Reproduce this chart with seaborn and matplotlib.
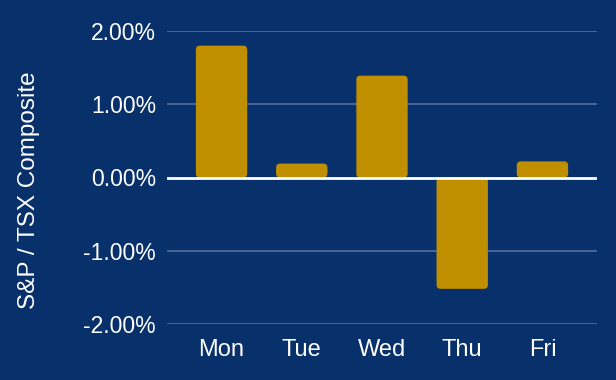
import matplotlib
matplotlib.use("Agg")
import matplotlib.pyplot as plt
import seaborn as sns
import pandas as pd
from matplotlib.patches import FancyBboxPatch
from matplotlib.ticker import FuncFormatter

# valores
dias = ["Mon", "Tue", "Wed", "Thu", "Fri"]
retornos = [1.80, 0.19, 1.39, -1.52, 0.22]
ticks_y = [-2, -1, 0, 1, 2]

fundo = "#08306a"
dourado = "#c08f00"
grade = "#4e6a9a"

sns.set_theme(style="dark")
plt.rcParams["font.family"] = ["Liberation Sans", "DejaVu Sans"]

df = pd.DataFrame({"dia": dias, "retorno": retornos})

fig = plt.figure(figsize=(6.16, 3.8), dpi=100, facecolor=fundo)
ax = fig.add_axes([167 / 616, 1 - 324 / 380, 430 / 616, 293 / 380])
ax.set_facecolor(fundo)

sns.barplot(data=df, x="dia", y="retorno", color=dourado, width=0.64,
            saturation=1, ax=ax, zorder=2)

# cantos arredondados
for p in list(ax.patches):
    x, y = p.get_x(), p.get_y()
    w, h = p.get_width(), p.get_height()
    if h < 0:
        y, h = y + h, -h
    p.remove()
    caixa = FancyBboxPatch((x, y), w, h,
                           boxstyle="round,pad=0,rounding_size=0.05",
                           mutation_aspect=4.0 / 5.36 * 430 / 293,
                           facecolor=dourado, edgecolor="none", zorder=2)
    ax.add_patch(caixa)

ax.set_xlim(-0.68, 4.68)
ax.set_ylim(-2, 2)
ax.set_yticks(ticks_y)
ax.yaxis.set_major_formatter(FuncFormatter(lambda v, _: f"{v:.2f}%"))
for t in ticks_y:
    if t != 0:
        ax.axhline(t, color=grade, lw=1.3, zorder=1)
ax.axhline(0, color="white", lw=2, zorder=3)

for s in ax.spines.values():
    s.set_visible(False)
ax.tick_params(axis="both", length=0, colors="white", labelsize=17)
ax.tick_params(axis="y", labelsize=16.5, pad=8)
ax.tick_params(axis="x", pad=11)
ax.set_xlabel("")
ax.set_ylabel("S&P / TSX Composite", color="white", fontsize=17.5)
ax.yaxis.set_label_coords(-0.295, 0.457)
ax.grid(False)

fig.savefig("out.png", dpi=100, facecolor=fundo)
